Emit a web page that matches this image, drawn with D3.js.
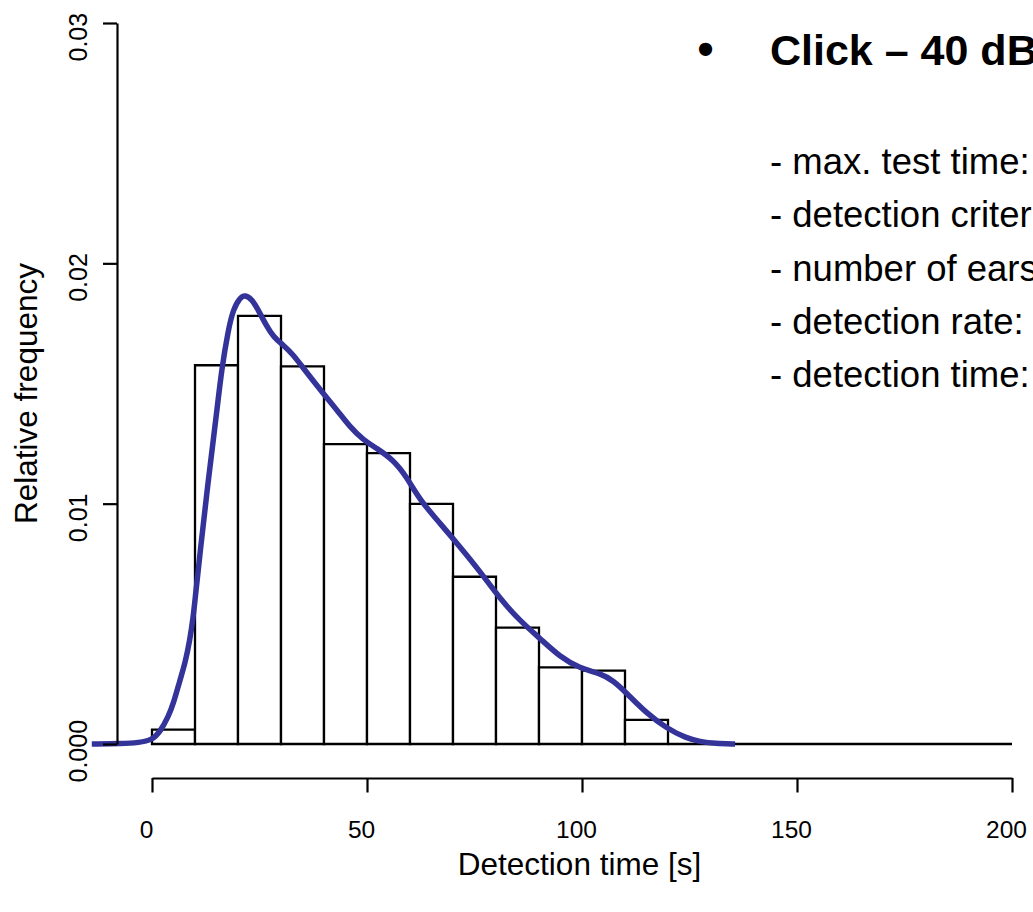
<!DOCTYPE html>
<html>
<head>
<meta charset="utf-8">
<script src="https://cdn.jsdelivr.net/npm/d3@7"></script>
<style>
    body { margin: 0; background: #fff; }
    svg { display: block; font-family: "Liberation Sans", Arial, sans-serif; }
</style>
</head>
<body>
<div class="graph-container"></div>
<script>
const width = 1033,
    height = 912;

// histogram: bin start (s) and relative frequency (density scale)
const binStarts = [0, 10, 20, 30, 40, 50, 60, 70, 80, 90, 100, 110, 120, 130, 140, 150, 160, 170, 180, 190];
const binValues = [0.0006, 0.01576, 0.01781, 0.01571, 0.01248, 0.0121, 0.00999, 0.00696, 0.00484, 0.00319,
    0.00305, 0.001, 0, 0, 0, 0, 0, 0, 0, 0];
const binWidth = 10;

// density curve
const densT = [-14, -7, -3, 0, 1.9, 3.8, 5, 6.5, 7.7, 8.8, 9.6, 10, 11.2, 13.1, 15.05, 16.2, 17.7, 18.9,
    20.5, 21.6, 23.2, 24.7, 26.7, 28.2, 30.5, 32.9, 35.2, 39.8, 43, 46, 49.1, 52.3, 56.1, 59.2, 62.3,
    67, 71.6, 76.3, 80.9, 85.6, 90.2, 94.9, 99.5, 104.2, 107.3, 110.4, 115, 119.7, 124.3, 127.4, 131, 135.6];
const densY = [0, 0.00001, 0.00006, 0.00016, 0.00051, 0.00114, 0.00169, 0.00266, 0.00336, 0.00433, 0.0053,
    0.006, 0.0080, 0.0110, 0.0138, 0.0156, 0.0172, 0.0181, 0.01858, 0.01868, 0.01852, 0.01806, 0.01737,
    0.01695, 0.0166, 0.01619, 0.01563, 0.01459, 0.0139, 0.0132, 0.01265, 0.0123, 0.01182, 0.01112, 0.01015,
    0.00918, 0.00821, 0.00718, 0.00605, 0.00512, 0.0044, 0.00362, 0.00315, 0.00294, 0.00264, 0.00211,
    0.00128, 0.00065, 0.00024, 0.0001, 0.00002, 0];

const xTicks = [0, 50, 100, 150, 200];
const yTicks = [0, 0.01, 0.02, 0.03];
const yTickLabels = ["0.000", "0.01", "0.02", "0.03"];

const infoTitle = "Click – 40 dB";
const infoLines = ["- max. test time:", "- detection criter", "- number of ears", "- detection rate:", "- detection time:"];

const svg = d3.select(".graph-container")
    .append("svg")
    .attr("width", width)
    .attr("height", height);

const x = d3.scaleLinear().domain([0, 200]).range([152, 1012]);
const y = d3.scaleLinear().domain([0, 0.03]).range([744, 23]);

// bars (paths so that empty bins still show as a line)
svg.append("g")
    .selectAll("path")
    .data(binStarts.map((s, i) => ({ s: s, v: binValues[i] })))
    .join("path")
    .attr("d", d => `M${x(d.s)},${y(0)}V${y(d.v)}H${x(d.s + binWidth)}V${y(0)}Z`)
    .attr("fill", "white")
    .attr("stroke", "black")
    .attr("stroke-width", 2.3);

// density line
const line = d3.line()
    .x(d => x(d[0]))
    .y(d => y(d[1]))
    .curve(d3.curveBasis);

svg.append("path")
    .datum(densT.map((t, i) => [t, densY[i]]))
    .attr("d", line)
    .attr("fill", "none")
    .attr("stroke", "#333399")
    .attr("stroke-width", 5.5)
    .attr("stroke-linejoin", "round");

// x axis
const xAxis = svg.append("g")
    .attr("transform", "translate(0,778)")
    .call(d3.axisBottom(x).tickValues(xTicks).tickSize(14.5).tickSizeOuter(0));

xAxis.select(".domain").attr("stroke-width", 2.2);
xAxis.selectAll(".tick line").attr("stroke-width", 2.2);
xAxis.selectAll(".tick text")
    .attr("y", 60)
    .attr("dy", null)
    .attr("dx", -6)
    .style("font-size", "24.5px")
    .style("font-family", "'Liberation Sans', Arial, sans-serif")
    .attr("fill", "black");

// y axis
const yAxis = svg.append("g")
    .attr("transform", "translate(117,0)")
    .call(d3.axisLeft(y).tickValues(yTicks).tickSize(14).tickSizeOuter(0)
        .tickFormat((d, i) => yTickLabels[i]));

yAxis.select(".domain").attr("stroke-width", 2.2);
yAxis.selectAll(".tick line").attr("stroke-width", 2.2);
yAxis.selectAll(".tick text")
    .attr("x", null)
    .attr("dy", null)
    .attr("text-anchor", "start")
    .attr("transform", "translate(-30,38) rotate(-90)")
    .style("font-size", "25px")
    .style("font-family", "'Liberation Sans', Arial, sans-serif")
    .attr("fill", "black");

// axis titles
svg.append("text")
    .text("Detection time [s]")
    .attr("x", 579.5)
    .attr("y", 875)
    .attr("text-anchor", "middle")
    .style("font-size", "31.5px");

svg.append("text")
    .text("Relative frequency")
    .attr("text-anchor", "middle")
    .attr("transform", "translate(37,393.5) rotate(-90)")
    .style("font-size", "31.5px");

// info text on the right
svg.append("text")
    .text("•")
    .attr("x", 705.5)
    .attr("y", 65)
    .attr("text-anchor", "middle")
    .style("font-size", "46px")
    .style("font-weight", "bold");

svg.append("text")
    .text(infoTitle)
    .attr("x", 770)
    .attr("y", 65)
    .style("font-size", "43px")
    .style("font-weight", "bold");

svg.append("g")
    .selectAll("text")
    .data(infoLines)
    .join("text")
    .text(d => d)
    .attr("x", 770)
    .attr("y", (d, i) => 174 + i * 53.3)
    .style("font-size", "36.5px");
</script>
</body>
</html>
